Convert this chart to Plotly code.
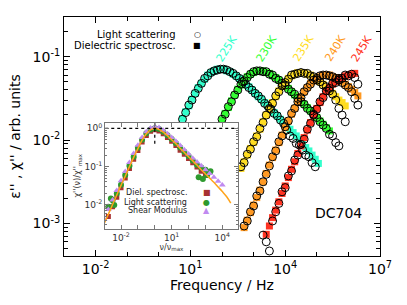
import plotly.graph_objects as go

# ---------------- main panel data (log10 of frequency / Hz and log10 of loss) -------------
temps = ["225K", "230K", "235K", "240K", "245K"]
colors = ["#33ffcc", "#33ff33", "#ffdd22", "#ff9922", "#ff3322"]

logf_225 = [0.75, 0.85, 0.95, 1.05, 1.15, 1.25, 1.35, 1.45, 1.55, 1.65, 1.75, 1.85, 1.95, 2.05, 2.15,
            2.25, 2.35, 2.45, 2.55, 2.65, 2.75, 2.85, 2.95, 3.05, 3.15, 3.25, 3.35, 3.45, 3.55, 3.65,
            3.75, 3.85, 3.95, 4.05, 4.15, 4.25, 4.35, 4.45, 4.55, 4.65, 4.75, 4.85, 4.95, 5.05]
ds_225 = [-1.74, -1.66, -1.59, -1.51, -1.44, -1.37, -1.32, -1.27, -1.22, -1.19, -1.17, -1.15, -1.15, -1.15, -1.17,
          -1.18, -1.21, -1.23, -1.26, -1.29, -1.33, -1.36, -1.40, -1.44, -1.48, -1.51, -1.55, -1.59, -1.63, -1.67,
          -1.71, -1.75, -1.79, -1.83, -1.87, -1.91, -1.95, -1.99, -2.04, -2.09, -2.13, -2.18, -2.23, -2.28]
ls_225 = [-1.75, -1.67, -1.58, -1.52, -1.44, -1.38, -1.32, -1.26, -1.23, -1.19, -1.17, -1.16, -1.15, -1.15, -1.16,
          -1.18, -1.20, -1.23, -1.26, -1.30, -1.33, -1.37, -1.40, -1.44, -1.47, -1.51, -1.56, -1.59, -1.63, -1.68,
          -1.71, -1.76, -1.80, -1.88, -1.95, -1.98, -2.04, -2.06, -2.12, -2.18, -2.20, -2.27, -2.32, None]

logf_230 = [2.0, 2.1, 2.2, 2.3, 2.4, 2.5, 2.6, 2.7, 2.8, 2.9, 3.0, 3.1, 3.2, 3.3, 3.4, 3.5, 3.6, 3.7, 3.8,
            3.9, 4.0, 4.1, 4.2, 4.3, 4.4, 4.5, 4.6, 4.7, 4.8, 4.9, 5.0, 5.1, 5.2, 5.3, 5.4, 5.5, 5.6, 5.7]
ds_230 = [-1.76, -1.68, -1.61, -1.53, -1.46, -1.39, -1.34, -1.29, -1.24, -1.21, -1.19, -1.17, -1.17, -1.17, -1.19,
          -1.20, -1.23, -1.25, -1.28, -1.31, -1.35, -1.38, -1.42, -1.46, -1.50, -1.53, -1.57, -1.61, -1.65, -1.69,
          -1.73, -1.77, -1.81, -1.85, -1.89, None, None, None]
ls_230 = [-1.75, -1.69, -1.60, -1.54, -1.46, -1.40, -1.33, -1.29, -1.25, -1.21, -1.18, -1.17, -1.17, -1.18, -1.18,
          -1.21, -1.22, -1.26, -1.28, -1.32, -1.34, -1.39, -1.42, -1.45, -1.50, -1.54, -1.57, -1.62, -1.65, -1.70,
          -1.73, -1.78, -1.82, -1.86, -1.93, -1.95, -2.03, -2.07]

logf_235 = [2.6, 2.7, 2.8, 2.9, 3.0, 3.1, 3.2, 3.3, 3.4, 3.5, 3.6, 3.7, 3.8, 3.9, 4.0, 4.1, 4.2,
            4.3, 4.4, 4.5, 4.6, 4.7, 4.8, 4.9, 5.0, 5.1, 5.2, 5.3, 5.4, 5.5, 5.6, 5.7, 5.8, 5.9]
ds_235 = [-2.34, -2.26, -2.18, -2.10, -2.03, -1.95, -1.87, -1.78, -1.70, -1.63, -1.55, -1.48, -1.41, -1.36, -1.31,
          -1.26, -1.23, -1.21, -1.19, -1.19, -1.19, -1.21, -1.22, -1.25, -1.27, -1.30, -1.33, -1.37, -1.40, -1.44,
          -1.48, -1.52, -1.55, -1.59]
ls_235 = [-2.32, -2.27, -2.17, -2.11, -2.02, -1.96, -1.86, -1.79, -1.70, -1.62, -1.56, -1.47, -1.42, -1.35, -1.31,
          -1.27, -1.22, -1.21, -1.20, -1.19, -1.20, -1.20, -1.23, -1.24, -1.28, -1.30, -1.34, -1.36, -1.41, -1.45,
          -1.52, -1.62, -1.70, -1.78]

logf_240 = [2.7, 2.8, 2.9, 3.0, 3.1, 3.2, 3.3, 3.4, 3.5, 3.6, 3.7, 3.8, 3.9, 4.0, 4.1, 4.2, 4.3, 4.4, 4.5,
            4.6, 4.7, 4.8, 4.9, 5.0, 5.1, 5.2, 5.3, 5.4, 5.5, 5.6, 5.7, 5.8, 5.9, 6.0, 6.1, 6.2, 6.3]
ds_240 = [-3.05, -2.96, -2.87, -2.78, -2.69, -2.60, -2.50, -2.40, -2.30, -2.21, -2.12, -2.03, -1.94, -1.85, -1.77,
          -1.69, -1.62, -1.55, -1.48, -1.42, -1.37, -1.32, -1.29, -1.26, -1.24, -1.22, -1.22, -1.22, -1.24, -1.25,
          -1.28, -1.30, -1.33, -1.36, -1.39, -1.43, -1.47]
ls_240 = [-3.03, -2.97, -2.86, -2.79, -2.67, -2.61, -2.50, -2.41, -2.31, -2.20, -2.13, -2.02, -1.95, -1.84, -1.77,
          -1.68, -1.62, -1.54, -1.49, -1.42, -1.37, -1.33, -1.28, -1.26, -1.23, -1.22, -1.22, -1.23, -1.24, -1.26,
          -1.28, -1.31, -1.34, -1.37, -1.42, -1.50, -1.58]

logf_245 = [3.3, 3.4, 3.5, 3.6, 3.7, 3.8, 3.9, 4.0, 4.1, 4.2, 4.3, 4.4, 4.5, 4.6, 4.7, 4.8,
            4.9, 5.0, 5.1, 5.2, 5.3, 5.4, 5.5, 5.6, 5.7, 5.8, 5.9, 6.0, 6.1, 6.2, 6.3]
ds_245 = [None, -3.13, -3.03, -2.93, -2.84, -2.74, -2.64, -2.55, -2.45, -2.35, -2.26, -2.16, -2.07, -1.97, -1.88,
          -1.79, -1.70, -1.62, -1.55, -1.48, -1.42, -1.37, -1.33, -1.30, -1.27, -1.25, -1.23, -1.22, -1.21, -1.20,
          None]
ls_245 = [-3.14, -3.22, -3.33, -2.97, -2.86, -2.76, -2.62, -2.57, -2.43, -2.37, -2.24, -2.18, -2.05, -1.99, -1.87,
          -1.80, -1.69, -1.63, -1.54, -1.49, -1.41, -1.38, -1.32, -1.31, -1.26, -1.26, -1.22, -1.23, -1.21, -1.25,
          -1.33]

logf_all = [logf_225, logf_230, logf_235, logf_240, logf_245]
ds_all = [ds_225, ds_230, ds_235, ds_240, ds_245]
ls_all = [ls_225, ls_230, ls_235, ls_240, ls_245]

# temperature label positions (log10 f, log10 eps)
label_logf = [2.15, 3.41, 4.57, 5.58, 6.42]
label_logy = [-0.90, -0.90, -0.90, -0.90, -0.90]

# ---------------- inset data (log10 of nu/nu_max and log10 of normalised loss) -------------
inset_line_x = [-3.0, -2.75, -2.5, -2.25, -2.0, -1.75, -1.5, -1.25, -1.0, -0.75, -0.5, -0.25, 0.0, 0.25, 0.5,
                0.75, 1.0, 1.25, 1.5, 1.75, 2.0, 2.25, 2.5, 2.75, 3.0, 3.25, 3.5, 3.75, 4.0, 4.25, 4.5]
inset_line_y = [-2.49, -2.24, -1.99, -1.74, -1.49, -1.25, -1.00, -0.76, -0.53, -0.31, -0.14, -0.04, 0.0, -0.03,
                -0.10, -0.19, -0.30, -0.40, -0.52, -0.63, -0.74, -0.85, -0.96, -1.08, -1.19, -1.30, -1.41, -1.53,
                -1.65, -1.78, -1.95]

shear_x = [-3.0, -2.75, -2.5, -2.25, -2.0, -1.75, -1.5, -1.25, -1.0, -0.75, -0.5, -0.25, 0.0, 0.25, 0.5,
           0.75, 1.0, 1.25, 1.5, 1.75, 2.0, 2.25, 2.5, 2.75, 3.0, 3.25, 3.5, 3.75, 4.0]
shear_y = [-2.37, -2.12, -1.87, -1.62, -1.37, -1.13, -0.89, -0.66, -0.44, -0.24, -0.09, 0.01, 0.04, 0.02, -0.05,
           -0.14, -0.24, -0.34, -0.45, -0.56, -0.67, -0.78, -0.88, -0.98, -1.08, -1.18, -1.28, -1.38, -1.48]

lsn_x = [-2.75, -2.5, -2.25, -2.0, -1.75, -1.5, -1.25, -1.0, -0.75, -0.5, -0.25, 0.0, 0.25, 0.5, 0.75, 1.0,
         1.25, 1.5, 1.75, 2.0, 2.25, 2.5, 2.75, 3.0, 3.25, -2.6, -2.4, 2.6, 2.85, 3.1, 3.3]
lsn_y = [-2.05, -1.88, -1.70, -1.47, -1.22, -0.98, -0.74, -0.51, -0.30, -0.13, -0.03, 0.0, -0.02, -0.09, -0.18,
         -0.28, -0.39, -0.50, -0.61, -0.72, -0.84, -0.95, -1.02, -1.08, -1.15, -1.83, -2.0, -1.28, -1.32, -1.22, -1.12]

dsn_x = [-2.75, -2.5, -2.25, -2.0, -1.75, -1.5, -1.25, -1.0, -0.75, -0.5, -0.25, 0.0, 0.25, 0.5, 0.75, 1.0,
         1.25, 1.5, 1.75, 2.0, 2.25, 2.5, 2.75, 3.0]
dsn_y = [-2.30, -2.05, -1.80, -1.55, -1.30, -1.05, -0.81, -0.58, -0.36, -0.19, -0.08, -0.04, -0.07, -0.14, -0.24,
         -0.34, -0.45, -0.57, -0.68, -0.79, -0.90, -1.01, -1.12, -1.23]


def p10(vals):
    return [None if v is None else 10 ** v for v in vals]


FONT = "DejaVu Sans"
fig = go.Figure()

# dielectric squares (underneath)
for T, c, lf, ds in zip(temps, colors, logf_all, ds_all):
    fig.add_trace(go.Scatter(x=p10(lf), y=p10(ds), mode="markers", name="DS " + T,
                             marker=dict(symbol="square", size=7, color=c, line=dict(width=0)),
                             xaxis="x", yaxis="y"))
# light scattering open circles
for T, lf, ls in zip(temps, logf_all, ls_all):
    fig.add_trace(go.Scatter(x=p10(lf), y=p10(ls), mode="markers", name="LS " + T,
                             marker=dict(symbol="circle-open", size=8, color="black", line=dict(width=1)),
                             xaxis="x", yaxis="y"))

# inset traces
fig.add_trace(go.Scatter(x=p10(dsn_x), y=p10(dsn_y), mode="markers", xaxis="x2", yaxis="y2",
                         marker=dict(symbol="square", size=5, color="#a83232")))
fig.add_trace(go.Scatter(x=p10(lsn_x), y=p10(lsn_y), mode="markers", xaxis="x2", yaxis="y2",
                         marker=dict(symbol="circle", size=6, color="#2e9a2e")))
fig.add_trace(go.Scatter(x=p10(shear_x), y=p10(shear_y), mode="markers", xaxis="x2", yaxis="y2",
                         marker=dict(symbol="triangle-up", size=6, color="#c08af0")))
fig.add_trace(go.Scatter(x=p10(inset_line_x), y=p10(inset_line_y), mode="lines", xaxis="x2", yaxis="y2",
                         line=dict(color="#ffa31a", width=1.5, shape="spline")))
# reference dotted lines at the normalised maximum
fig.add_trace(go.Scatter(x=[1e-4, 1e6], y=[1, 1], mode="lines", xaxis="x2", yaxis="y2",
                         line=dict(color="black", width=1.2, dash="dot")))
fig.add_trace(go.Scatter(x=[1, 1], y=[2.0, 10 ** -0.45], mode="lines", xaxis="x2", yaxis="y2",
                         line=dict(color="black", width=1.2, dash="dot")))


def sup(e):
    return "10<sup>%d</sup>" % e


main_minor_x = [10 ** e for e in range(-3, 8) if e not in (-2, 1, 4, 7)]
main_minor_y = [k * 10 ** e for e in range(-4, 0) for k in range(2, 10)]
inset_minor_x = [10 ** e for e in range(-3, 6) if e not in (-2, 1, 4)]
inset_minor_y = [k * 10 ** e for e in range(-3, 1) for k in range(2, 10)]

axis_common = dict(type="log", showline=True, linecolor="black", linewidth=1, mirror="allticks",
                   ticks="inside", ticklen=6, tickcolor="black", showgrid=False, zeroline=False,
                   tickmode="array")

fig.update_layout(
    width=407, height=305,
    margin=dict(l=64, r=27, t=17, b=49),
    paper_bgcolor="white", plot_bgcolor="white", showlegend=False,
    font=dict(family=FONT, size=14, color="black"),
    xaxis=dict(axis_common, range=[-3, 7], domain=[0, 1],
               tickvals=[1e-2, 1e1, 1e4, 1e7], ticktext=[sup(-2), sup(1), sup(4), sup(7)],
               tickfont=dict(size=14),
               minor=dict(tickvals=main_minor_x, ticks="inside", ticklen=4, tickcolor="black"),
               title=dict(text="Frequency / Hz", standoff=4, font=dict(size=14))),
    yaxis=dict(axis_common, range=[-3.39, -0.524], domain=[0, 1],
               tickvals=[1e-3, 1e-2, 1e-1], ticktext=[sup(-3), sup(-2), sup(-1)],
               tickfont=dict(size=14),
               minor=dict(tickvals=main_minor_y, ticks="inside", ticklen=4, tickcolor="black"),
               title=dict(text="ε'' , χ'' / arb. units", standoff=8, font=dict(size=14))),
    xaxis2=dict(axis_common, range=[-2.95, 4.93], domain=[0.1297, 0.5506], anchor="y2",
                linecolor="#777777", tickcolor="#777777", ticklen=4,
                tickvals=[1e-2, 1e1, 1e4], ticktext=[sup(-2), sup(1), sup(4)],
                tickfont=dict(size=9, color="#333333"),
                minor=dict(tickvals=inset_minor_x, ticks="inside", ticklen=4, tickcolor="#777777"),
                title=dict(text="ν/ν<sub>max</sub>", standoff=2, font=dict(size=8, color="#333333"))),
    yaxis2=dict(axis_common, range=[-2.62, 0.146], domain=[0.1142, 0.5577], anchor="x2",
                linecolor="#777777", tickcolor="#777777", ticklen=4,
                tickvals=[1e-2, 1e-1, 1e0], ticktext=[sup(-2), sup(-1), sup(0)],
                tickfont=dict(size=9, color="#333333"),
                minor=dict(tickvals=inset_minor_y, ticks="inside", ticklen=2, tickcolor="#777777"),
                title=dict(text="χ''(ν)/χ''<sub>max</sub>", standoff=2, font=dict(size=8, color="#333333"))),
)

annotations = []
# temperature labels
for T, c, lx, ly in zip(temps, colors, label_logf, label_logy):
    annotations.append(dict(x=lx, y=ly, xref="x", yref="y", text=T, showarrow=False, textangle=-58,
                            font=dict(size=11, color=c, family=FONT)))
annotations.append(dict(x=5.70, y=-2.88, xref="x", yref="y", text="DC704", showarrow=False,
                        font=dict(size=14, color="black", family=FONT)))

# main legend (text then symbol)
leg_rows = [("Light scattering", "○", "black", 0.9276), ("Dielectric spectrosc.", "■", "black", 0.880)]
for txt, sym, col, yy in leg_rows:
    annotations.append(dict(x=0.3617, y=yy, xref="paper", yref="paper", text=txt, showarrow=False,
                            xanchor="right", yanchor="middle", font=dict(size=10, color="black", family=FONT)))
    annotations.append(dict(x=0.4209, y=yy, xref="paper", yref="paper", text=sym, showarrow=False,
                            xanchor="center", yanchor="middle", font=dict(size=8, color=col, family=FONT)))

# inset legend
ileg_rows = [("Diel. spectrosc.", "■", "#a83232", 0.2649),
             ("Light scattering", "●", "#2e9a2e", 0.2259),
             ("Shear Modulus", "▲", "#c08af0", 0.1883)]
for txt, sym, col, yy in ileg_rows:
    annotations.append(dict(x=0.3956, y=yy, xref="paper", yref="paper", text=txt, showarrow=False,
                            xanchor="right", yanchor="middle", font=dict(size=8, color="#222222", family=FONT)))
    annotations.append(dict(x=0.4516, y=yy, xref="paper", yref="paper", text=sym, showarrow=False,
                            xanchor="center", yanchor="middle", font=dict(size=8, color=col, family=FONT)))

fig.update_layout(annotations=annotations)

fig.write_html("out.html", config={"displayModeBar": False},
               post_script="document.body.style.margin='0px';")
